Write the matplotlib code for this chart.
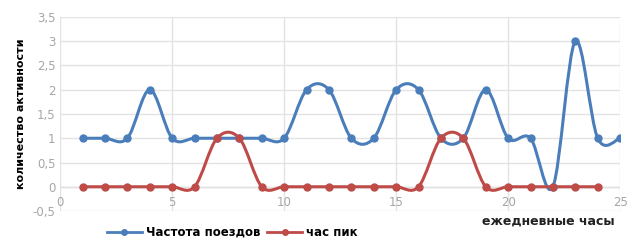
import numpy as np
import matplotlib.pyplot as plt
from matplotlib.path import Path
from matplotlib.patches import PathPatch
from matplotlib.lines import Line2D

hours = list(range(1, 26))
trains = [1, 1, 1, 2, 1, 1, 1, 1, 1, 1, 2, 2, 1, 1, 2, 2, 1, 1, 2, 1, 1, 0, 3, 1, 1]
peak_hours = list(range(1, 25))
peak = [0, 0, 0, 0, 0, 0, 1, 1, 0, 0, 0, 0, 0, 0, 0, 0, 1, 1, 0, 0, 0, 0, 0, 0]

blue = '#4a7ebb'
red = '#be4b48'


def smooth_path(x, y, t=1/6):
    # excel style smoothed line as cubic bezier segments
    x = np.asarray(x, float)
    y = np.asarray(y, float)
    n = len(x)
    verts = [(x[0], y[0])]
    codes = [Path.MOVETO]
    for i in range(n - 1):
        p0 = i - 1 if i > 0 else i
        p3 = i + 2 if i + 2 < n else i + 1
        c1 = (x[i] + (x[i+1] - x[p0]) * t, y[i] + (y[i+1] - y[p0]) * t)
        c2 = (x[i+1] - (x[p3] - x[i]) * t, y[i+1] - (y[p3] - y[i]) * t)
        verts += [c1, c2, (x[i+1], y[i+1])]
        codes += [Path.CURVE4] * 3
    return Path(verts, codes)


fig = plt.figure(figsize=(6.27, 2.42), dpi=100)
ax = fig.add_axes([0.096, 0.128, 0.893, 0.802])

for xs, ys, c in [(hours, trains, blue), (peak_hours, peak, red)]:
    ax.add_patch(PathPatch(smooth_path(xs, ys), fill=False, edgecolor=c, lw=2.2, zorder=3))
    ax.plot(xs, ys, 'o', color=c, ms=5, zorder=4)

ax.set_xlim(0, 25)
ax.set_ylim(-0.5, 3.5)
ax.set_xticks(range(0, 26, 5))
ax.set_yticks(np.arange(-0.5, 3.6, 0.5))
ax.set_yticklabels([('%g' % v).replace('.', ',') for v in np.arange(-0.5, 3.6, 0.5)])
ax.grid(True, color='#e3e3e3', lw=1)
ax.axhline(0, color='#d0d0d0', lw=1, zorder=1)
for s in ax.spines.values():
    s.set_visible(False)
ax.tick_params(length=0, colors='#a6a6a6', labelsize=8.5)
ax.tick_params(axis='x', pad=-11)
ax.set_ylabel('количество активности', fontsize=8, fontweight='bold', labelpad=5)

fig.text(0.98, 0.085, 'ежедневные часы', ha='right', va='center',
         fontsize=9, fontweight='bold', color='#222222')

handles = [Line2D([], [], color=blue, lw=2, marker='o', ms=4),
           Line2D([], [], color=red, lw=2, marker='o', ms=4)]
fig.legend(handles, ['Частота поездов', 'час пик'], loc='center',
           bbox_to_anchor=(0.37, 0.04), ncol=2, frameon=False,
           prop={'size': 8.5, 'weight': 'bold'}, handlelength=3,
           handletextpad=0.3, columnspacing=0.6, borderaxespad=0)

fig.savefig('out.png', dpi=100)
